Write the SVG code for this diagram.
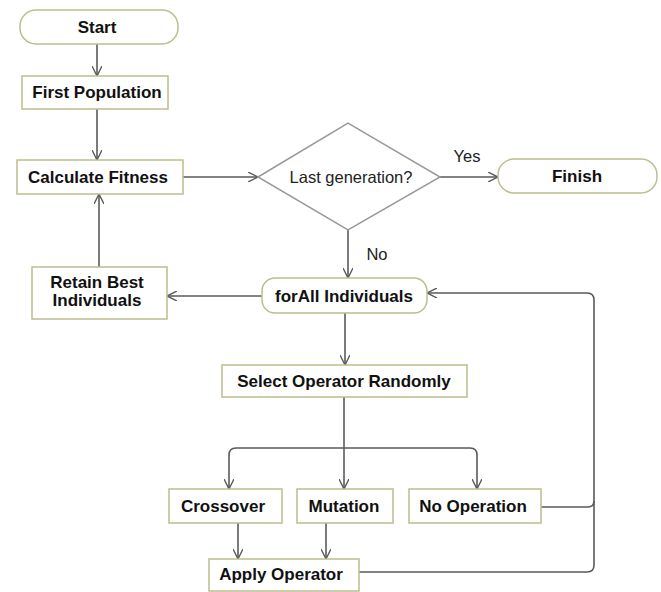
<svg xmlns="http://www.w3.org/2000/svg" width="661" height="592" viewBox="0 0 661 592">
<style>
.box{fill:#fff;stroke:#bdbd8e;stroke-width:1.5}
.dia{fill:#fff;stroke:#9a9a9a;stroke-width:1.5}
.b{font-family:"Liberation Sans",Arial,sans-serif;font-weight:bold;font-size:17px;fill:#111;text-anchor:middle}
.n{font-family:"Liberation Sans",Arial,sans-serif;font-size:16.5px;fill:#222;text-anchor:middle}
.c{fill:none;stroke:#5a5a5a;stroke-width:1.6}
</style>
<defs>
<marker id="ar" viewBox="0 0 10 10" refX="10" refY="5" markerWidth="10" markerHeight="10" markerUnits="userSpaceOnUse" orient="auto">
<path d="M0,0 L10,5 L0,10" fill="none" stroke="#5a5a5a" stroke-width="1.4"/>
</marker>
</defs>
<rect width="661" height="592" fill="#fff"/>
<g id="connectors">
<path class="c" d="M97,44 V76" marker-end="url(#ar)"/>
<path class="c" d="M97,109 V160" marker-end="url(#ar)"/>
<path class="c" d="M183,177 H258" marker-end="url(#ar)"/>
<path class="c" d="M440,177 H498" marker-end="url(#ar)"/>
<path class="c" d="M348,230 V278" marker-end="url(#ar)"/>
<path class="c" d="M262,296 H167" marker-end="url(#ar)"/>
<path class="c" d="M99,267 V194" marker-end="url(#ar)"/>
<path class="c" d="M345,313 V365" marker-end="url(#ar)"/>
<path class="c" d="M344,397 V489" marker-end="url(#ar)"/>
<path class="c" d="M344,448 H236 Q229,448 229,455 V489" marker-end="url(#ar)"/>
<path class="c" d="M344,448 H470 Q477,448 477,455 V489" marker-end="url(#ar)"/>
<path class="c" d="M238,523 V559" marker-end="url(#ar)"/>
<path class="c" d="M326,523 V559" marker-end="url(#ar)"/>
<path class="c" d="M541,507 H588 Q594,507 594,501 V300 Q594,293 587,293 H427" marker-end="url(#ar)"/>
<path class="c" d="M359,572 H587 Q594,572 594,565 V501"/>
<text class="n" x="467" y="162">Yes</text>
<text class="n" x="377" y="260">No</text>
</g>
<g id="start"><rect class="box" x="20" y="10" width="158" height="34" rx="16"/><text class="b" x="97" y="33">Start</text></g>
<g id="first-population"><rect class="box" x="22" y="76" width="146" height="33"/><text class="b" x="97" y="98">First Population</text></g>
<g id="calculate-fitness"><rect class="box" x="17" y="160" width="166" height="34"/><text class="b" x="98" y="183">Calculate Fitness</text></g>
<g id="last-generation"><polygon class="dia" points="258,177 348,123 440,177 348,230"/><text class="n" x="351" y="183">Last generation?</text></g>
<g id="finish"><rect class="box" x="498" y="159" width="159" height="34" rx="16"/><text class="b" x="577" y="182">Finish</text></g>
<g id="forall"><rect class="box" x="262" y="278" width="165" height="35" rx="13"/><text class="b" x="344" y="302">forAll Individuals</text></g>
<g id="retain-best"><rect class="box" x="32" y="267" width="135" height="52"/><text class="b" x="97" y="288">Retain Best</text><text class="b" x="97" y="306">Individuals</text></g>
<g id="select-operator"><rect class="box" x="222" y="365" width="245" height="32"/><text class="b" x="344" y="387">Select Operator Randomly</text></g>
<g id="crossover"><rect class="box" x="169" y="489" width="113" height="34"/><text class="b" x="223" y="512">Crossover</text></g>
<g id="mutation"><rect class="box" x="297" y="489" width="96" height="34"/><text class="b" x="344" y="512">Mutation</text></g>
<g id="no-operation"><rect class="box" x="409" y="489" width="132" height="34"/><text class="b" x="473" y="512">No Operation</text></g>
<g id="apply-operator"><rect class="box" x="209" y="559" width="150" height="32"/><text class="b" x="281" y="580">Apply Operator</text></g>
</svg>
